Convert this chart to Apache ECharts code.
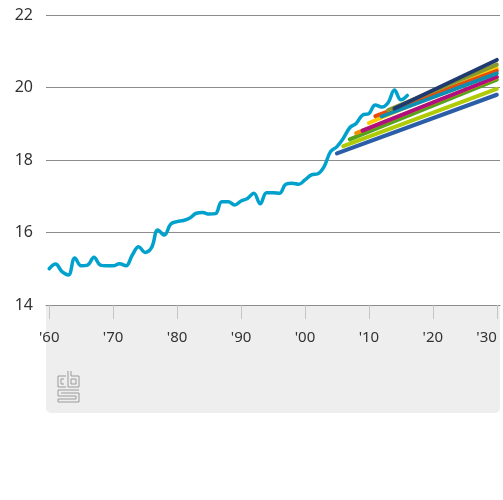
<!DOCTYPE html>
<html>
<head>
<meta charset="utf-8">
<script src="https://cdn.jsdelivr.net/npm/echarts@6/dist/echarts.min.js"></script>
<style>
  html, body { margin: 0; padding: 0; background: #fff; }
  #chart { width: 503px; height: 500px; }
</style>
</head>
<body>
<div id="chart"></div>
<script>
// jaren op de x-as
const years = []
for (let y = 1960; y <= 2030; y++) years.push(String(y))

// waargenomen reeks 1960-2016
const observed = [
  15.0, 15.13, 14.92, 14.83, 15.3, 15.08, 15.1, 15.32, 15.1, 15.08,
  15.08, 15.14, 15.08, 15.38, 15.61, 15.45, 15.58, 16.07, 15.93, 16.23,
  16.3, 16.33, 16.4, 16.53, 16.55, 16.51, 16.52, 16.85, 16.85, 16.76,
  16.87, 16.94, 17.08, 16.79, 17.1, 17.1, 17.08, 17.33, 17.36, 17.33,
  17.45, 17.59, 17.62, 17.82, 18.23, 18.37, 18.6, 18.89, 19.01, 19.24,
  19.28, 19.52, 19.46, 19.58, 19.93, 19.66, 19.78
]

// prognoses: startjaar, startwaarde, waarde in 2030
const fcStart = [2005, 2006, 2007, 2008, 2009, 2010, 2011, 2012, 2013, 2014]
const fcFrom = [18.18, 18.38, 18.57, 18.74, 18.81, 19.02, 19.21, 19.2, 19.38, 19.42]
const fcTo = [19.8, 19.96, 20.22, 20.28, 20.29, 20.53, 20.46, 20.39, 20.63, 20.76]
const fcColors = ['#2b5ea8', '#afcb05', '#53a31d', '#f39200', '#af0e80',
  '#ffcc00', '#e94c0a', '#0f8fb0', '#8a9a2a', '#1f3a6e']

const chart = echarts.init(document.getElementById('chart'))

function buildObserved() {
  return years.map((y, i) => (i < observed.length ? observed[i] : null))
}

function buildForecast(k) {
  return years.map((y) => {
    if (+y === fcStart[k]) return fcFrom[k]
    if (+y === 2030) return fcTo[k]
    return null
  })
}

const series = [
  {
    type: 'line',
    data: buildObserved(),
    smooth: 0.4,
    symbol: 'none',
    lineStyle: { width: 3.5, color: '#00a1cd', cap: 'round', join: 'round' },
    z: 3
  }
]
fcStart.forEach((s, k) => {
  series.push({
    type: 'line',
    data: buildForecast(k),
    connectNulls: true,
    symbol: 'none',
    lineStyle: { width: 4, color: fcColors[k], cap: 'round' },
    z: 4
  })
})

// cbs-logo, grijs lijnwerk
const logoColor = '#9a9a9a'
const logo = [
  { type: 'polyline', shape: { points: [[66, 376], [58, 376], [58, 387], [66, 387]] } },
  { type: 'polyline', shape: { points: [[64, 379], [61, 379], [61, 384], [64, 384]] } },
  { type: 'polyline', shape: { points: [[68, 371], [68, 387], [79, 387], [79, 376], [71, 376], [71, 371]] } },
  { type: 'rect', shape: { x: 71, y: 379, width: 5, height: 5 } },
  { type: 'polyline', shape: { points: [[79, 390], [58, 390], [58, 396], [76, 396], [76, 399], [58, 399], [58, 402], [79, 402], [79, 393], [61, 393]] } }
].map((e) => Object.assign(e, { style: { fill: null, stroke: logoColor, lineWidth: 1 }, z: 1 }))

chart.setOption({
  animation: false,
  textStyle: { fontFamily: 'Noto Sans' },
  grid: { left: 46, right: 3, top: 15, bottom: 195, outerBoundsMode: 'none' },
  graphic: [
    {
      type: 'rect',
      zlevel: -1,
      shape: { x: 46, y: 305, width: 454, height: 108, r: [0, 0, 5, 5] },
      style: { fill: '#eeeeee' }
    },
    ...logo
  ],
  xAxis: {
    type: 'category',
    data: years,
    boundaryGap: true,
    axisLine: { lineStyle: { color: '#8c8c8c', width: 1 } },
    axisTick: {
      show: true,
      alignWithLabel: true,
      interval: 9,
      length: 14,
      lineStyle: { color: '#c4c4c4' }
    },
    axisLabel: {
      interval: 9,
      margin: 25,
      fontSize: 15,
      color: '#333',
      alignMaxLabel: 'right',
      formatter: (v) => "'" + v.slice(2)
    },
    splitLine: { show: false }
  },
  yAxis: {
    type: 'value',
    min: 14,
    max: 22,
    interval: 2,
    axisLine: { show: false },
    axisTick: { show: false },
    axisLabel: { fontSize: 16, color: '#333', margin: 13 },
    splitLine: { lineStyle: { color: '#8c8c8c', width: 1 } }
  },
  series
})
</script>
</body>
</html>
